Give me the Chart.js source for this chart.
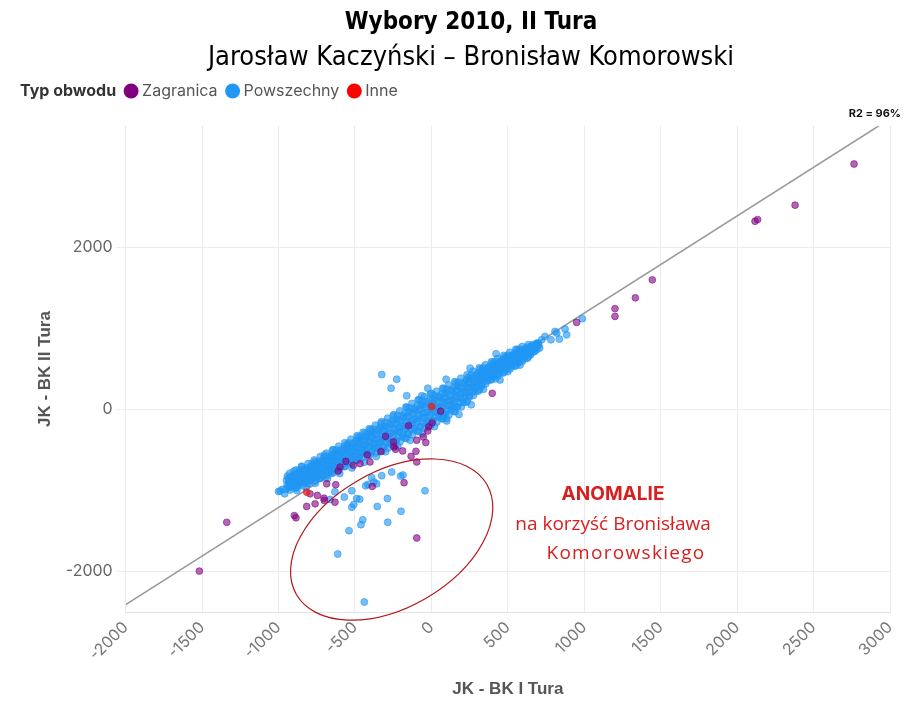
<!DOCTYPE html>
<html><head><meta charset="utf-8">
<script src="https://cdn.jsdelivr.net/npm/chart.js@4/dist/chart.umd.min.js"></script>
<style>html,body{margin:0;padding:0;background:#fff}#wrap{width:924px;height:713px}</style>
</head><body><div id="wrap"><canvas id="c" width="924" height="713"></canvas></div>
<script>
// ---- data ----
const seriesNames = ['Zagranica', 'Powszechny', 'Inne'];
const xTicks = [-2000, -1500, -1000, -500, 0, 500, 1000, 1500, 2000, 2500, 3000];
const yTicks = [-2000, 0, 2000];
const trendLine = [[-2000, -2408], [3000, 3592]];
const r2Label = 'R2 = 96%';

const zagranica = [
[2765,3033],[2379,2525],[2117,2326],[2134,2347],[1445,1603],[1334,1380],[1201,1247],[1201,1151],[950,1077],
[398,201],[4,-164],[-18,-213],[-24,-263],[-53,-337],[-96,-378],[-37,-407],[-101,-515],[-133,-577],[-96,-647],
[-179,-903],[-96,-1586],[-387,-949],[-626,-928],[-631,-1144],[-685,-916],[-703,-1094],[-701,-1123],[-746,-1061],
[-794,-1040],[-761,-1164],[-816,-1197],[-897,-1309],[-886,-1337],[-1339,-1392],[-1518,-1995],[-245,-461],
[-234,-490],[-188,-511],[-249,-400],[-467,-668],[-402,-647],[-511,-689],[-598,-710],[-300,-330],[-150,-200],
[60,-20],[-560,-640],[-420,-560],[-330,-520],[-610,-760]
];

const powszechny = [
// dense band
[-952,-986],[-934,-957],[-944,-929],[-930,-900],[-948,-872],[-936,-848],[-942,-821],
[-892,-967],[-910,-944],[-898,-914],[-906,-883],[-888,-853],[-904,-824],[-894,-796],
[-872,-934],[-854,-901],[-864,-868],[-850,-836],[-868,-803],[-856,-776],[-862,-745],
[-812,-913],[-830,-888],[-818,-853],[-826,-819],[-808,-784],[-824,-752],[-814,-721],
[-792,-873],[-774,-837],[-784,-801],[-770,-765],[-788,-729],[-776,-699],[-782,-665],
[-732,-850],[-750,-822],[-738,-784],[-746,-747],[-728,-709],[-744,-674],[-734,-639],
[-712,-809],[-694,-770],[-704,-731],[-690,-691],[-708,-652],[-696,-619],[-702,-583],
[-652,-786],[-670,-756],[-658,-715],[-666,-675],[-648,-634],[-664,-596],[-654,-559],
[-632,-735],[-614,-694],[-624,-653],[-610,-612],[-628,-571],[-616,-537],[-622,-498],
[-572,-705],[-590,-674],[-578,-633],[-586,-591],[-568,-549],[-584,-510],[-574,-473],
[-552,-654],[-534,-612],[-544,-570],[-530,-528],[-548,-486],[-536,-451],[-542,-412],
[-492,-625],[-510,-593],[-498,-551],[-506,-508],[-488,-466],[-504,-426],[-494,-387],
[-472,-575],[-454,-532],[-464,-489],[-450,-446],[-468,-403],[-456,-367],[-462,-327],
[-412,-557],[-430,-523],[-418,-478],[-426,-432],[-408,-387],[-424,-344],[-414,-303],
[-392,-518],[-374,-470],[-384,-422],[-370,-374],[-388,-326],[-376,-286],[-382,-241],
[-332,-501],[-350,-464],[-338,-413],[-346,-363],[-328,-312],[-344,-265],[-334,-220],
[-312,-460],[-294,-407],[-304,-355],[-290,-302],[-308,-250],[-296,-206],[-302,-157],
[-252,-439],[-270,-399],[-258,-345],[-266,-291],[-248,-237],[-264,-187],[-254,-138],
[-232,-383],[-214,-329],[-224,-274],[-210,-220],[-228,-166],[-216,-120],[-222,-70],
[-172,-352],[-190,-312],[-178,-257],[-186,-202],[-168,-147],[-184,-96],[-174,-47],
[-152,-296],[-134,-241],[-144,-186],[-130,-131],[-148,-76],[-136,-30],[-142,22],
[-92,-266],[-110,-226],[-98,-170],[-106,-115],[-88,-59],[-104,-7],[-94,43],
[-72,-212],[-54,-156],[-64,-101],[-50,-45],[-68,11],[-56,58],[-62,110],
[-12,-187],[-30,-147],[-18,-92],[-26,-36],[-8,19],[-24,70],[-14,120],
[8,-137],[26,-82],[16,-28],[30,27],[12,82],[24,127],[18,178],
[68,-112],[50,-72],[62,-18],[54,36],[72,90],[56,140],[66,189],
[88,-54],[106,-1],[96,52],[110,106],[92,159],[104,204],[98,254],
[148,-24],[130,15],[142,68],[134,121],[152,174],[136,224],[146,272],
[168,33],[186,86],[176,138],[190,191],[172,243],[184,287],[178,336],
[228,89],[210,125],[222,173],[214,222],[232,270],[216,316],[226,360],
[248,170],[266,215],[256,259],[270,303],[252,348],[264,385],[258,426],
[308,230],[290,259],[302,299],[294,340],[312,380],[296,417],[306,454],
[328,310],[346,346],[336,381],[350,417],[332,453],[344,482],[338,516],
[388,366],[370,389],[382,420],[374,452],[392,483],[376,512],[386,540],
[408,416],[426,447],[416,477],[430,508],[412,539],[424,564],[418,593],
[468,452],[450,474],[462,504],[454,534],[472,564],[456,592],[466,619],
[488,502],[506,531],[496,560],[510,590],[492,619],[504,644],[498,671],
[548,537],[530,558],[542,587],[534,615],[552,644],[536,671],[546,697],
[568,587],[586,615],[576,643],[590,671],[572,699],[584,722],[578,748],
[628,633],[610,651],[622,675],[614,699],[632,723],[616,745],[626,767],
[648,696],[666,714],[656,732],[670,750],[652,768],[664,783],[658,800],
[708,760],[690,775],[702,795],[694,810],
// dense band, in-between columns
[-925,-992],[-911,-960],[-929,-926],[-917,-889],[-923,-852],[-911,-818],[-927,-786],
[-885,-968],[-871,-933],[-889,-897],[-877,-857],[-883,-817],[-871,-781],[-887,-746],
[-845,-942],[-831,-905],[-849,-867],[-837,-824],[-843,-781],[-831,-743],[-847,-706],
[-805,-912],[-791,-874],[-809,-834],[-797,-789],[-803,-744],[-791,-704],[-807,-666],
[-765,-881],[-751,-841],[-769,-799],[-757,-752],[-763,-705],[-751,-663],[-767,-623],
[-725,-851],[-711,-809],[-729,-765],[-717,-716],[-723,-667],[-711,-623],[-727,-581],
[-685,-820],[-671,-776],[-689,-731],[-677,-680],[-683,-629],[-671,-584],[-687,-540],
[-645,-783],[-631,-738],[-649,-692],[-637,-640],[-643,-588],[-631,-542],[-647,-497],
[-605,-743],[-591,-697],[-609,-650],[-597,-598],[-603,-546],[-591,-499],[-607,-453],
[-565,-702],[-551,-656],[-569,-609],[-557,-556],[-563,-503],[-551,-456],[-567,-410],
[-525,-663],[-511,-617],[-529,-569],[-517,-515],[-523,-461],[-511,-413],[-527,-367],
[-485,-624],[-471,-577],[-489,-528],[-477,-474],[-483,-420],[-471,-371],[-487,-324],
[-445,-590],[-431,-541],[-449,-491],[-437,-435],[-443,-379],[-431,-329],[-447,-280],
[-405,-564],[-391,-512],[-409,-459],[-397,-400],[-403,-341],[-391,-288],[-407,-236],
[-365,-536],[-351,-482],[-369,-426],[-357,-364],[-363,-302],[-351,-246],[-367,-192],
[-325,-509],[-311,-452],[-329,-394],[-317,-329],[-323,-264],[-311,-206],[-327,-149],
[-285,-478],[-271,-420],[-289,-359],[-277,-292],[-283,-225],[-271,-164],[-287,-106],
[-245,-441],[-231,-381],[-249,-320],[-237,-251],[-243,-182],[-231,-121],[-247,-61],
[-205,-398],[-191,-338],[-209,-276],[-197,-207],[-203,-138],[-191,-76],[-207,-16],
[-165,-355],[-151,-294],[-169,-232],[-157,-162],[-163,-92],[-151,-30],[-167,31],
[-125,-312],[-111,-251],[-129,-188],[-117,-118],[-123,-48],[-111,15],[-127,76],
[-85,-270],[-71,-209],[-89,-145],[-77,-75],[-83,-5],[-71,59],[-87,120],
[-45,-230],[-31,-169],[-49,-106],[-37,-36],[-43,34],[-31,97],[-47,158],
[-5,-192],[9,-132],[-9,-70],[3,0],[-3,70],[9,132],[-7,192],
[35,-154],[49,-94],[31,-33],[43,36],[37,105],[49,166],[33,226],
[75,-112],[89,-53],[71,8],[83,76],[77,144],[89,205],[73,264],
[115,-68],[129,-10],[111,51],[123,118],[117,185],[129,246],[113,304],
[155,-24],[169,34],[151,94],[163,161],[157,228],[169,288],[153,346],
[195,33],[209,89],[191,146],[203,210],[197,274],[209,331],[193,387],
[235,104],[249,155],[231,208],[243,267],[237,326],[249,379],[233,430],
[275,177],[289,223],[271,271],[283,325],[277,379],[289,427],[273,473],
[315,249],[329,291],[311,334],[323,382],[317,430],[329,473],[313,515],
[355,320],[369,357],[351,395],[363,437],[357,479],[369,517],[353,554],
[395,375],[409,409],[391,444],[403,483],[397,522],[409,557],[393,591],
[435,418],[449,451],[431,486],[443,524],[437,562],[449,597],[433,630],
[475,461],[489,494],[471,527],[483,565],[477,603],[489,636],[473,669],
[515,503],[529,535],[511,568],[523,605],[517,642],[529,675],[513,707],
[555,547],[569,578],[551,610],[563,646],[557,682],[569,714],[553,745],
[595,596],[609,625],[591,654],[603,687],[597,720],[609,749],[593,778],
[635,653],[649,677],[631,700],[643,727],[637,754],[649,777],[633,801],
[675,716],[689,742],[683,768],[677,794],[687,820],
// halo above band
[-900,-760],[-850,-700],[-760,-640],[-700,-560],[-640,-500],[-560,-440],[-480,-340],[-400,-250],[-330,-170],
[-250,-80],[-160,30],[-80,120],[0,200],[80,260],[160,330],[240,400],[320,500],[400,580],[480,650],[560,740],
// halo below band
[-880,-1000],[-820,-960],[-760,-910],[-680,-850],[-600,-790],[-520,-720],[-440,-650],[-360,-580],[-300,-520],
[-220,-450],[-140,-380],[-60,-300],[20,-210],[100,-140],[180,-60],[260,60],[340,250],[420,380],[500,470],[580,550],
// upper tail
[721,862],[699,821],[743,903],[782,862],[809,965],[820,945],[837,871],[874,995],[885,924],[987,1123],
[423,689],[449,366],[253,511],[100,-109],[78,-89],[143,35],
// outliers
[-325,432],[-227,375],[-264,263],[-162,171],[-63,171],[-24,263],[96,375],[-434,-288],
[-990,-1007],[-1000,-1011],[-936,-958],[-42,-1003],[-199,-1256],[-286,-1392],[-354,-1197],[-288,-1098],
[-461,-1421],[-449,-1362],[-539,-1495],[-613,-1784],[-439,-2376],[-521,-1206],[-508,-1172],[-489,-1098],
[-469,-1107],[-430,-941],[-415,-924],[-260,-771],[-201,-821],[-186,-809],[-391,-841],[-376,-895],
[-358,-916],[-325,-816],[-521,-1003],[-570,-1081],[-631,-1015],[-663,-1110],[-960,-1040],[-975,-985]
];

const inne = [[-816,-1020],[2,38]];

// annotation anchors (data coordinates)
const anomalyCenter = {x: -260, y: -1605};
const anomalyText = {x: 1188, y: -1048};
const anomalyLines = ['ANOMALIE', 'na korzyść Bronisława', 'Komorowskiego'];

const toPts = arr => arr.map(p => ({x: p[0], y: p[1]}));

const overlay = {
  id: 'overlay',
  afterDatasetsDraw(chart) {
    const {ctx, scales: {x, y}} = chart;
    const cx = x.getPixelForValue(anomalyCenter.x), cy = y.getPixelForValue(anomalyCenter.y);
    ctx.save();
    ctx.beginPath();
    ctx.ellipse(cx, cy, 110, 68, -Math.PI / 6, 0, Math.PI * 2);
    ctx.strokeStyle = '#b5171b';
    ctx.lineWidth = 1.2;
    ctx.stroke();
    const tx = x.getPixelForValue(anomalyText.x), ty = y.getPixelForValue(anomalyText.y);
    ctx.fillStyle = '#d81e1e';
    ctx.textAlign = 'center';
    ctx.textBaseline = 'middle';
    ctx.font = 'bold 19px Inter, "Open Sans", sans-serif';
    ctx.fillText(anomalyLines[0], tx, ty);
    ctx.font = '19px "Open Sans", Inter, sans-serif';
    ctx.fillText(anomalyLines[1], tx, ty + 30);
    if ('letterSpacing' in ctx) ctx.letterSpacing = '1.3px';
    ctx.fillText(anomalyLines[2], tx + 13, ty + 59);
    ctx.restore();
  },
  afterDraw(chart) {
    const {ctx, chartArea} = chart;
    ctx.save();
    // R2 label
    ctx.font = 'bold 11px Inter, sans-serif';
    ctx.fillStyle = '#111';
    ctx.textAlign = 'right';
    ctx.textBaseline = 'middle';
    ctx.fillText(r2Label, chartArea.right + 11, 114);
    // legend
    let lx = 20; const ly = 91;
    ctx.textAlign = 'left';
    ctx.font = 'bold 16px Inter, sans-serif';
    ctx.fillStyle = '#333';
    ctx.fillText('Typ obwodu', lx, ly);
    lx += ctx.measureText('Typ obwodu').width + 15;
    ctx.font = '16px Inter, sans-serif';
    chart.data.datasets.forEach(ds => {
      if (!seriesNames.includes(ds.label)) return;
      ctx.beginPath();
      ctx.arc(lx, ly, 7.5, 0, Math.PI * 2);
      ctx.fillStyle = ds.legendColor;
      ctx.fill();
      ctx.fillStyle = '#555';
      ctx.fillText(ds.label, lx + 11, ly);
      lx += 11 + ctx.measureText(ds.label).width + 15;
    });
    ctx.restore();
  }
};

new Chart(document.getElementById('c'), {
  type: 'scatter',
  data: {
    datasets: [
      {label: seriesNames[0], data: toPts(zagranica), legendColor: '#800080',
       backgroundColor: 'rgba(128,0,128,0.6)', borderColor: 'rgba(128,0,128,0.7)', borderWidth: 0.8, pointRadius: 3.4, order: 1},
      {label: seriesNames[1], data: toPts(powszechny), legendColor: '#2196f3',
       backgroundColor: 'rgba(33,150,243,0.62)', borderColor: 'rgba(33,150,243,0.72)', borderWidth: 0.8, pointRadius: 3.5, order: 2},
      {label: seriesNames[2], data: toPts(inne), legendColor: '#ff0000',
       backgroundColor: 'rgba(230,30,30,0.75)', borderColor: 'rgba(230,30,30,0.8)', borderWidth: 0.8, pointRadius: 3.4, order: 0},
      {type: 'line', label: 'trend', data: toPts(trendLine), borderColor: '#999', borderWidth: 1.6,
       pointRadius: 0, fill: false, order: 3}
    ]
  },
  options: {
    responsive: false,
    animation: false,
    devicePixelRatio: 1,
    layout: {padding: {left: 52, right: 34, top: 0, bottom: 9}},
    plugins: {
      legend: {display: false},
      tooltip: {enabled: false},
      title: {display: true, text: 'Wybory 2010, II Tura', color: '#000',
        font: {family: '"Liberation Sans Narrow", "Arial Narrow", "DejaVu Sans Condensed", sans-serif', size: 24, weight: 'bold', lineHeight: 1.2},
        padding: {top: 8, bottom: 5}},
      subtitle: {display: true, text: 'Jarosław Kaczyński – Bronisław Komorowski', color: '#000',
        font: {family: '"Liberation Sans Narrow", "Arial Narrow", "DejaVu Sans Condensed", sans-serif', size: 27, weight: 'normal', lineHeight: 1.2},
        padding: {top: 0, bottom: 52}}
    },
    scales: {
      x: {
        type: 'linear', min: -2000, max: 3000,
        afterBuildTicks: s => { s.ticks = xTicks.map(v => ({value: v})); },
        afterFit: s => { s.height = 92; },
        ticks: {minRotation: 45, maxRotation: 45, padding: 6, color: '#777',
          callback: v => String(v),
          font: {family: 'Inter, sans-serif', size: 16}},
        grid: {color: '#ebebeb', drawTicks: false},
        border: {display: true, color: '#e2e2e2'},
        title: {display: true, text: 'JK - BK I Tura', color: '#555',
          font: {family: '"Liberation Sans Narrow", "Arial Narrow", sans-serif', size: 17, weight: 'bold'}}
      },
      y: {
        type: 'linear', min: -2500, max: 3500,
        afterBuildTicks: s => { s.ticks = yTicks.map(v => ({value: v})); },
        afterFit: s => { s.width = 73.7; },
        ticks: {padding: 4, color: '#666', callback: v => String(v),
          font: {family: 'Inter, sans-serif', size: 16}},
        grid: {color: '#ebebeb', tickLength: 9},
        border: {display: false},
        title: {display: true, text: 'JK - BK II Tura', color: '#555', padding: {top: -17, bottom: 4},
          font: {family: '"Liberation Sans Narrow", "Arial Narrow", sans-serif', size: 17, weight: 'bold'}}
      }
    }
  },
  plugins: [overlay]
});
</script></body></html>
